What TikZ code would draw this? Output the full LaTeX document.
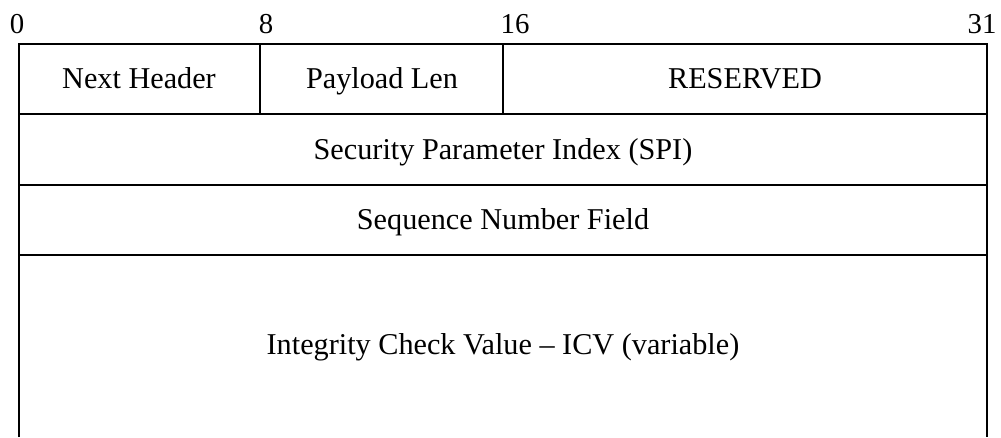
\documentclass[tikz,border=0pt]{standalone}
\usepackage{fontspec}
\setmainfont{Liberation Serif}
\usepackage{tikz}

\begin{document}
\begin{tikzpicture}[x=0.025cm, y=-0.025cm,
  field/.style={inner sep=0pt, anchor=base, font=\fontsize{21.5}{25}\selectfont},
  bitnum/.style={inner sep=0pt, anchor=base, font=\fontsize{20.5}{24}\selectfont},
  rule/.style={line width=1.2pt}]
% Fix the page to the size of the reference
\useasboundingbox (0, 0) rectangle (1001, 437);
% Bit positions above the header
\node[bitnum] (b0) at (17, 33) {0};
\node[bitnum] (b8) at (266, 33) {8};
\node[bitnum] (b16) at (515, 33) {16};
\node[bitnum] (b31) at (982, 33) {31};
% Outer lines, open at the bottom
\draw[rule] (19, 437) -- (19, 44) -- (987, 44) -- (987, 437);
% Row borders
\draw[rule] (19, 114) -- (987, 114);
\draw[rule] (19, 185) -- (987, 185);
\draw[rule] (19, 255) -- (987, 255);
% Dividers of the first row
\draw[rule] (260, 44) -- (260, 114);
\draw[rule] (503, 44) -- (503, 114);
% Field names
\node[field] (nexthdr) at (139, 88) {Next Header};
\node[field] (paylen) at (382, 88) {Payload Len};
\node[field] (rsvd) at (745, 88) {RESERVED};
\node[field] (spi) at (503, 159) {Security Parameter Index (SPI)};
\node[field] (seqnum) at (503, 229) {Sequence Number Field};
\node[field] (icv) at (503, 354) {Integrity Check Value -- ICV (variable)};
\end{tikzpicture}
\end{document}
